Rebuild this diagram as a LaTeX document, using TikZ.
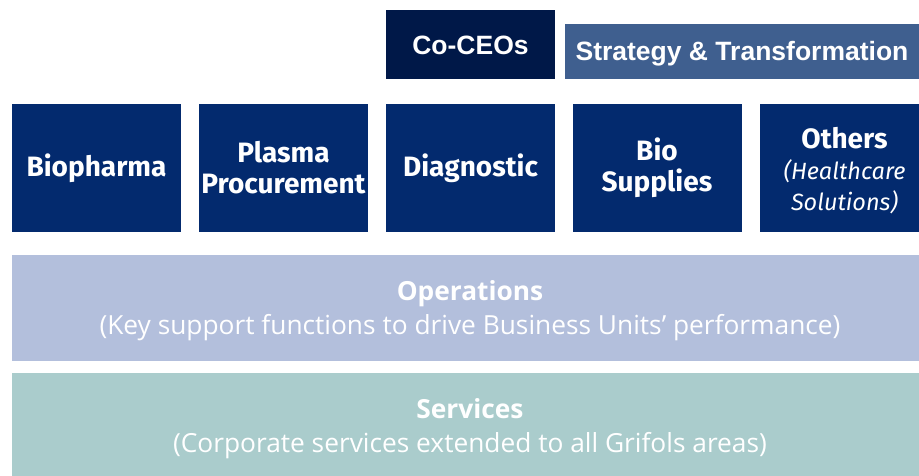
\documentclass[tikz,border=0pt]{standalone}
\usepackage{fontspec}
\setmainfont{Liberation Sans}
\newfontfamily\unitfont{Fira Sans}
\newfontfamily\bandfont{Open Sans}
\definecolor{ceo}{HTML}{001848}
\definecolor{strat}{HTML}{3F5F8F}
\definecolor{unit}{HTML}{032A6E}
\definecolor{ops}{HTML}{B3BFDC}
\definecolor{serv}{HTML}{AACCCC}
\newcommand{\itl}[1]{{\mdseries\itshape\fontsize{23.5}{28}\selectfont #1}}
\begin{document}
\begin{tikzpicture}[x=1pt,y=-1pt,
  box/.style={rectangle, inner sep=0pt, outer sep=0pt, text=white, align=center},
  unitbox/.style={box, fill=unit, minimum width=169pt, minimum height=128pt,
    font=\unitfont\bfseries\fontsize{28}{31}\selectfont},
  unittext/.style={box, font=\unitfont\bfseries\fontsize{28}{31}\selectfont},
  band/.style={box, minimum width=916pt, minimum height=106pt},
  bandtext/.style={box, font=\bandfont\fontsize{26.3}{34}\selectfont},
  toptext/.style={box, font=\bfseries\fontsize{26.5}{30}\selectfont}]
\useasboundingbox (0,0) rectangle (919,475);
\clip (0,0) rectangle (919,475);
\node[box, fill=ceo, minimum width=169pt, minimum height=69pt] (ceo) at (470.5,44.5) {};
\node[toptext] (ceoT) at ([yshift=-1pt]ceo.center) {Co-CEOs};
\node[box, fill=strat, minimum width=354pt, minimum height=55pt] (strat) at (742,51.5) {};
\node[toptext] (stratT) at ([yshift=-2.5pt]strat.center) {Strategy \& Transformation};
\node[unitbox] (bio) at (96.5,168) {Biopharma};
\node[unitbox] (plasma) at (283.5,168) {Plasma\\Procurement};
\node[unitbox] (diag) at (470.5,168) {Diagnostic};
\node[unitbox] (biosup) at (657,168) {Bio\\Supplies};
\node[box, fill=unit, minimum width=169pt, minimum height=128pt] (others) at (844.5,168) {};
\node[unittext] (othersT) at ([yshift=-3pt]others.center) {Others\\\itl{(Healthcare}\\\itl{Solutions)}};
\node[band, fill=ops] (ops) at (470,308) {};
\node[bandtext] (opsT) at ([yshift=-3pt]ops.center) {\textbf{Operations}\\(Key support functions to drive Business Units’ performance)};
\node[band, fill=serv] (serv) at (470,426) {};
\node[bandtext] (servT) at ([yshift=-3pt]serv.center) {\textbf{Services}\\(Corporate services extended to all Grifols areas)};
\end{tikzpicture}
\end{document}
